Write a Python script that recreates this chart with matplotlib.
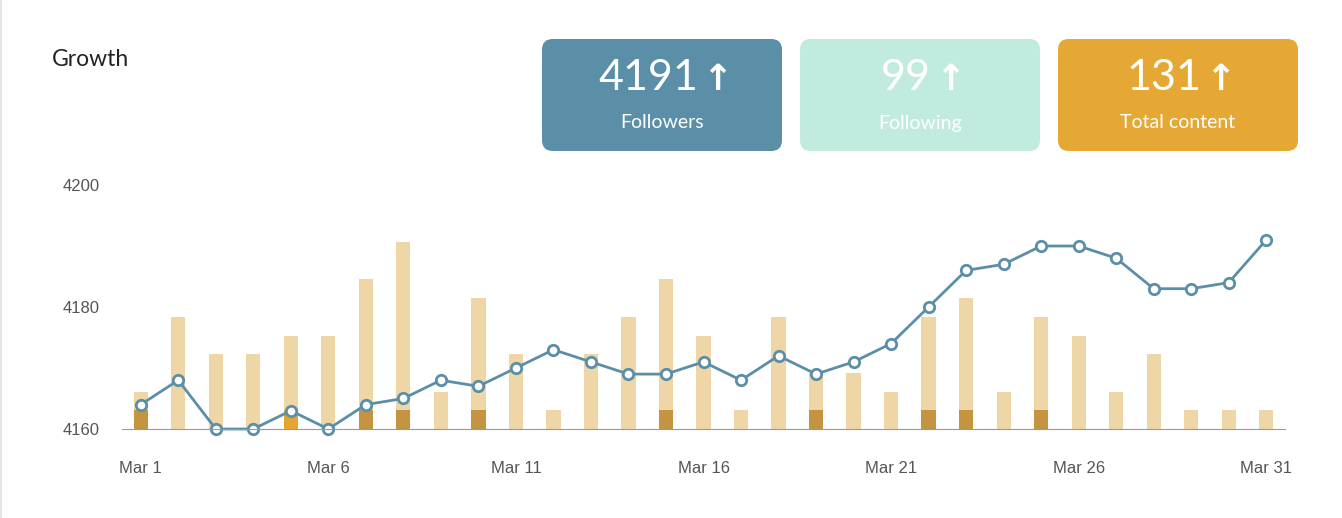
import numpy as np
import matplotlib.pyplot as plt
from matplotlib.patches import FancyBboxPatch

plt.rcParams['font.family'] = ['Lato', 'DejaVu Sans']

days = np.arange(1, 32)
followers = [4164, 4168, 4160, 4160, 4163, 4160, 4164, 4165, 4168, 4167,
             4170, 4173, 4171, 4169, 4169, 4171, 4168, 4172, 4169, 4171,
             4174, 4180, 4186, 4187, 4190, 4190, 4188, 4183, 4183, 4184, 4191]
content = [2, 6, 4, 4, 5, 5, 8, 10, 2, 7, 4, 1, 4, 6, 8, 5, 1, 6, 3, 3,
           2, 6, 7, 2, 6, 5, 2, 4, 1, 1, 1]
new_content = {1: 1, 5: 1, 7: 1, 8: 1, 10: 1, 15: 1, 19: 1, 22: 1, 23: 1, 25: 1}

blue = '#5b8fa8'
fig = plt.figure(figsize=(13.42, 5.18), dpi=100)
fig.add_artist(plt.Line2D([0.001, 0.001], [0, 1], color='#e6e6e6', lw=1.5))

ax = fig.add_axes([122/1342, 89/518, 1163/1342, 244/518])
bx = ax.twinx()
ax.set_zorder(2)
ax.patch.set_visible(False)

bx.bar(days, content, width=0.38, color='#efd6a6', zorder=1)
dk = sorted(new_content)
bx.bar(dk, [new_content[d] for d in dk], width=0.38,
       color=['#e8a431' if d == 5 else '#c49440' for d in dk], zorder=2)
bx.set_ylim(0, 13.05)
bx.axis('off')

ax.plot(days, followers, color=blue, lw=2, marker='o', ms=7.5,
        mfc='white', mec=blue, mew=2, clip_on=False)
ax.set_xlim(0.5, 31.5)
ax.set_ylim(4160, 4200)
ax.set_yticks([4160, 4180, 4200])
ax.set_xticks([1, 6, 11, 16, 21, 26, 31])
ax.set_xticklabels([f'Mar {d}' for d in [1, 6, 11, 16, 21, 26, 31]])
ax.tick_params(length=0, labelsize=12, labelcolor='#555555', pad=23)
ax.tick_params(axis='y', pad=16)
for lab in ax.get_xticklabels() + ax.get_yticklabels():
    lab.set_family('Liberation Sans')
for s in ['top', 'right', 'left']:
    ax.spines[s].set_visible(False)
ax.spines['bottom'].set_color('#999999')

fig.text(52/1342, 1 - 60/518, 'Growth', fontsize=16.5, color='#222222', va='center')

cards = [('4191', 'Followers', blue), ('99', 'Following', '#c2ebdf'),
         ('131', 'Total content', '#e6a835')]
for i, (num, label, col) in enumerate(cards):
    x0 = (542 + i * 258) / 1342
    w = 240 / 1342
    y0 = 1 - 151/518
    h = 112 / 518
    fig.add_artist(FancyBboxPatch((x0, y0), w, h, transform=fig.transFigure,
                                  boxstyle='round,pad=0,rounding_size=0.008',
                                  fc=col, ec='none',
                                  mutation_aspect=1342/518))
    fig.text(x0 + w/2 - 14/1342, 1 - 78/518, num, fontsize=31, color='white',
             ha='center', va='center')
    t = fig.text(x0 + w/2, 1 - 78/518, num, fontsize=31, alpha=0)
    fig.canvas.draw()
    bb = t.get_window_extent()
    t.remove()
    fig.text(x0 + w/2 - 14/1342 + bb.width/2/1342 + 4/1342, 1 - 80/518, '\u2191',
             fontsize=26, color='white', ha='left', va='center',
             family='DejaVu Sans', fontweight='bold')
    fig.text(x0 + w/2, 1 - 123/518, label, fontsize=14, color='white',
             ha='center', va='center')

fig.savefig('out.png', dpi=100)
